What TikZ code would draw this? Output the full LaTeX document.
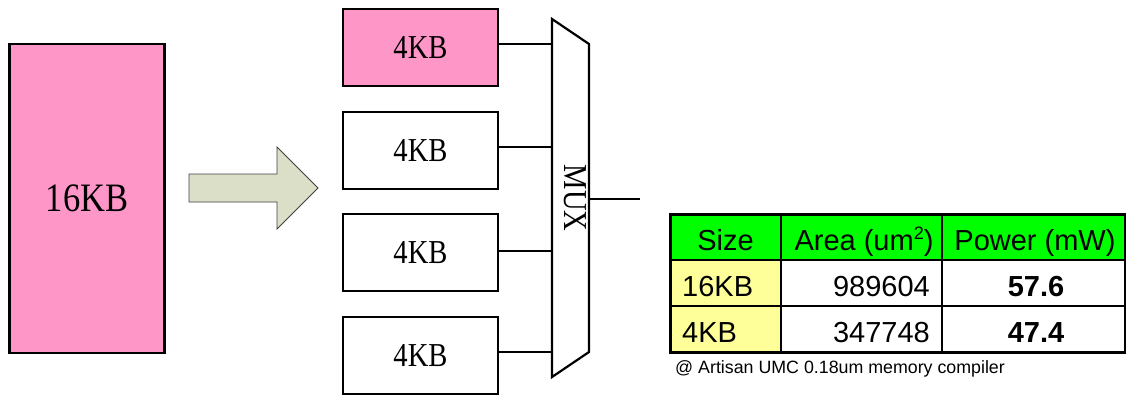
\documentclass[tikz,border=0pt]{standalone}
\usepackage{fontspec}
\usepackage{graphicx}
\setmainfont{Liberation Serif}
\newfontfamily\arialf{Liberation Sans}
\newcommand{\tallTxt}[1]{\scalebox{1}[1.17]{#1}}
\definecolor{memPink}{HTML}{FF96C8}
\definecolor{arrowFill}{HTML}{DCDFC8}
\definecolor{hdrGreen}{HTML}{00FF00}
\definecolor{sizeYellow}{HTML}{FFFF99}
\begin{document}
\begin{tikzpicture}[x=1pt,y=-1pt,
  membox/.style={draw=black,line width=2.2pt,inner sep=0pt,
     font=\fontsize{28.6}{30}\selectfont},
  wire/.style={draw=black,line width=2pt},
  tabtxt/.style={anchor=base,inner sep=0pt,font=\arialf\fontsize{29}{30}\selectfont},
  tabbold/.style={tabtxt,font=\arialf\bfseries\fontsize{29}{30}\selectfont}]
\useasboundingbox (0,0) rectangle (1126,394);

% big memory
\node[membox,fill=memPink,minimum width=155pt,minimum height=309pt,
  font=\fontsize{34.5}{36}\selectfont] (big) at (87,198.5) {\tallTxt{16KB}};

% arrow
\draw[draw=black!75,line width=0.8pt,fill=arrowFill]
  (189,174) -- (277,174) -- (277,147) -- (318,188) -- (277,229) -- (277,202) -- (189,202) -- cycle;

% small memories
\node[membox,fill=memPink,minimum width=155pt,minimum height=77pt] (b1) at (420.5,47.5) {\tallTxt{4KB}};
\node[membox,minimum width=155pt,minimum height=77pt] (b2) at (420.5,150.5) {\tallTxt{4KB}};
\node[membox,minimum width=155pt,minimum height=77pt] (b3) at (420.5,252.5) {\tallTxt{4KB}};
\node[membox,minimum width=155pt,minimum height=77pt] (b4) at (420.5,355.5) {\tallTxt{4KB}};

% MUX
\coordinate (m1) at (552,19);
\coordinate (m2) at (589,44);
\coordinate (m3) at (589,352);
\coordinate (m4) at (552,377);
\draw[line width=2.2pt,line join=miter] (m1) -- (m2) -- (m3) -- (m4) -- cycle;
\node[rotate=-90,inner sep=0pt,font=\fontsize{28.6}{30}\selectfont] (muxlbl) at (575,198) {\tallTxt{MUX}};
\coordinate (mo) at (589,199);
\coordinate (out) at (640,199);
\draw[wire] (mo) -- (out);

\draw[wire] ([yshift=3.5pt]b1.east) -- ([yshift=3.5pt]b1.east -| m1);
\draw[wire] ([yshift=3.5pt]b2.east) -- ([yshift=3.5pt]b2.east -| m1);
\draw[wire] ([yshift=1.5pt]b3.east) -- ([yshift=1.5pt]b3.east -| m1);
\draw[wire] ([yshift=3.5pt]b4.east) -- ([yshift=3.5pt]b4.east -| m1);

% table
\fill[hdrGreen] (670,214) rectangle (1126,260);
\fill[sizeYellow] (670,260) rectangle (781,352);
\draw[line width=1.5pt] (781,214) -- (781,352);
\draw[line width=1.5pt] (942,214) -- (942,352);
\draw[line width=1.5pt] (670,260) -- (1126,260);
\draw[line width=1.5pt] (670,306) -- (1126,306);
\draw[line width=3pt] (670,214) rectangle (1125,352);

\node[tabtxt] (h1) at (725.5,250) {Size};
\node[tabtxt] (h2) at (864,250) {Area (um\raisebox{0.36em}{\fontsize{18}{18}\selectfont 2})};
\node[tabtxt] (h3) at (1035,250) {Power (mW)};
\node[tabtxt,anchor=base west] (r1a) at (682,296) {16KB};
\node[tabtxt,anchor=base east] (r1b) at (930,296) {989604};
\node[tabbold] (r1c) at (1036,296) {57.6};
\node[tabtxt,anchor=base west] (r2a) at (682,342) {4KB};
\node[tabtxt,anchor=base east] (r2b) at (930,342) {347748};
\node[tabbold] (r2c) at (1036,342) {47.4};

\node[anchor=base west,inner sep=0pt,font=\arialf\fontsize{17.8}{19}\selectfont] (note) at (675,373)
  {@ Artisan UMC 0.18um memory compiler};
\end{tikzpicture}
\end{document}
